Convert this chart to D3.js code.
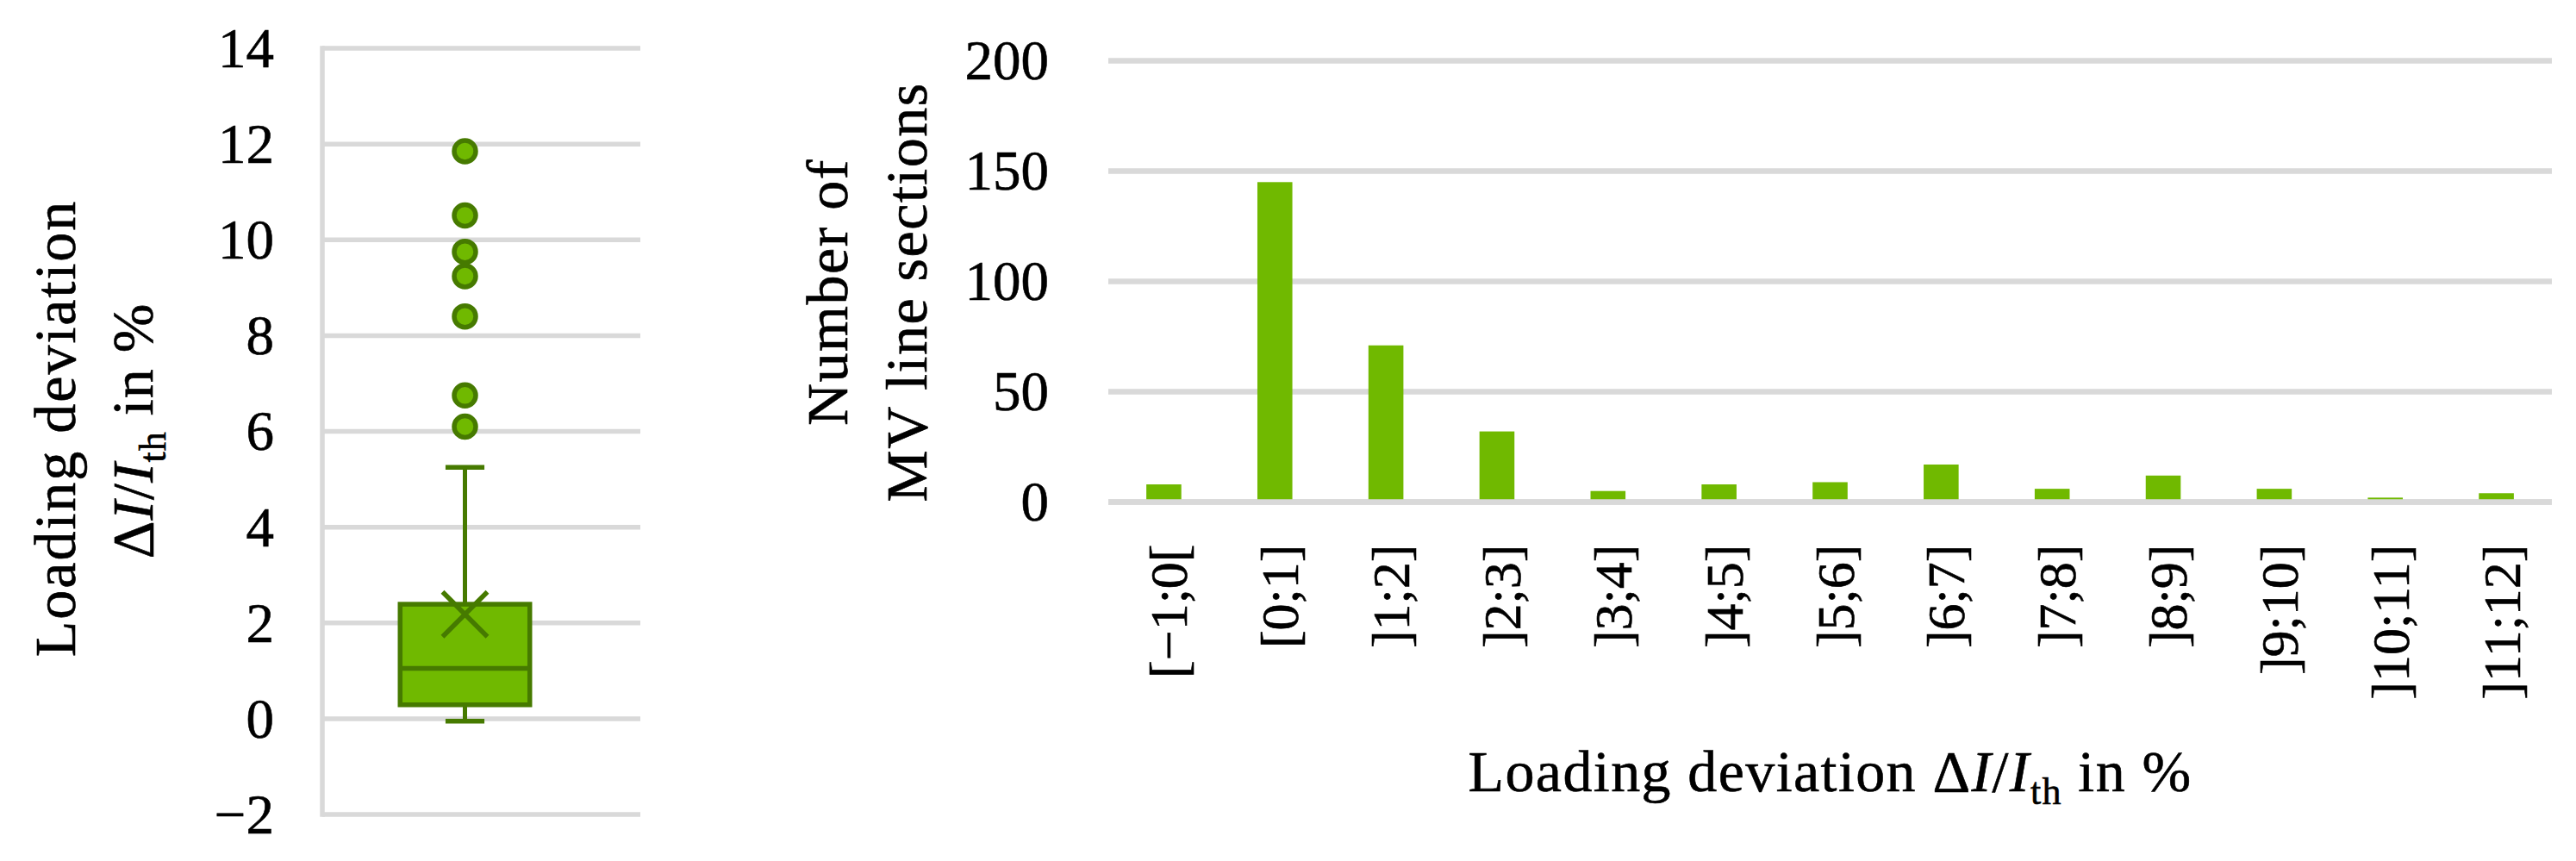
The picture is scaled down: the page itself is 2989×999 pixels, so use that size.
<!DOCTYPE html>
<html>
<head>
<meta charset="utf-8">
<script src="https://cdn.jsdelivr.net/npm/d3@7"></script>
<style>
  body { margin: 0; background: #fff; }
  svg { display: block; }
  text { font-family: "Liberation Serif", "Times New Roman", serif; fill: #000; stroke: #000; stroke-width: 0.6px; }
</style>
</head>
<body>
<script>
// box plot values (loading deviation in %)
var boxQuartiles = [0.29, 1.05, 2.39];   // Q1, median, Q3
var boxWhiskers = [-0.05, 5.25];
var boxMean = [2.18];
var boxOutliers = [6.1, 6.75, 8.4, 9.24, 9.75, 10.51, 11.85];
var boxTicks = [-2, 0, 2, 4, 6, 8, 10, 12, 14];

// histogram values
var binLabels = ["[\u22121;0[", "[0;1]", "]1;2]", "]2;3]", "]3;4]", "]4;5]", "]5;6]",
                 "]6;7]", "]7;8]", "]8;9]", "]9;10]", "]10;11]", "]11;12]"];
var binCounts = [8, 145, 71, 32, 5, 8, 9, 17, 6, 12, 6, 2, 4];
var countTicks = [0, 50, 100, 150, 200];

var width = 2989, height = 999;
var green = "#70b900", darkGreen = "#467a00", grid = "#d9d9d9";

var svg = d3.select("body").append("svg")
    .attr("width", width)
    .attr("height", height);

// ---------- left: box plot ----------
var yL = d3.scaleLinear().domain([-2, 14]).range([945, 56]);
var xL = d3.scaleBand().domain(["all"]).range([374, 705]).paddingOuter(0.6);

var left = svg.append("g");

left.selectAll("line.grid")
    .data(boxTicks)
    .enter().append("line")
    .attr("class", "grid")
    .attr("x1", 374).attr("x2", 743)
    .attr("y1", function (d) { return yL(d) })
    .attr("y2", function (d) { return yL(d) })
    .attr("stroke", grid).attr("stroke-width", 5.5);

left.append("line")
    .attr("x1", 374).attr("x2", 374)
    .attr("y1", yL(14) - 2.75).attr("y2", yL(-2) + 2.75)
    .attr("stroke", grid).attr("stroke-width", 5.5);

var axL = left.append("g")
    .attr("transform", "translate(374,0)")
    .call(d3.axisLeft(yL).tickValues(boxTicks).tickSize(0).tickPadding(56));
axL.select(".domain").remove();
axL.selectAll("text").attr("font-size", 65).attr("dy", "0.33em")
    .style("font-family", '"Liberation Serif", serif');

var cx = xL("all") + xL.bandwidth() / 2;
var bw = xL.bandwidth();
var capW = bw * 0.3;

// whiskers
left.append("line")
    .attr("x1", cx).attr("x2", cx)
    .attr("y1", yL(boxWhiskers[1])).attr("y2", yL(boxQuartiles[2]))
    .attr("stroke", darkGreen).attr("stroke-width", 5);
left.append("line")
    .attr("x1", cx).attr("x2", cx)
    .attr("y1", yL(boxWhiskers[0])).attr("y2", yL(boxQuartiles[0]))
    .attr("stroke", darkGreen).attr("stroke-width", 5);
left.selectAll("line.cap")
    .data(boxWhiskers)
    .enter().append("line")
    .attr("class", "cap")
    .attr("x1", cx - capW / 2).attr("x2", cx + capW / 2)
    .attr("y1", function (d) { return yL(d) })
    .attr("y2", function (d) { return yL(d) })
    .attr("stroke", darkGreen).attr("stroke-width", 5.5);

// box
left.append("rect")
    .attr("x", xL("all"))
    .attr("y", yL(boxQuartiles[2]))
    .attr("width", bw)
    .attr("height", yL(boxQuartiles[0]) - yL(boxQuartiles[2]))
    .attr("fill", green)
    .attr("stroke", darkGreen).attr("stroke-width", 5.5);
left.append("line")
    .attr("x1", xL("all")).attr("x2", xL("all") + bw)
    .attr("y1", yL(boxQuartiles[1])).attr("y2", yL(boxQuartiles[1]))
    .attr("stroke", darkGreen).attr("stroke-width", 5.5);

// mean marker (x)
var mh = 26;
boxMean.forEach(function (m) {
    var my = yL(m);
    left.append("path")
        .attr("d", "M" + (cx - mh) + "," + (my - mh) + "L" + (cx + mh) + "," + (my + mh) +
                   "M" + (cx - mh) + "," + (my + mh) + "L" + (cx + mh) + "," + (my - mh))
        .attr("stroke", darkGreen).attr("stroke-width", 5.5).attr("fill", "none");
});

// outliers
left.selectAll("circle")
    .data(boxOutliers)
    .enter().append("circle")
    .attr("cx", cx)
    .attr("cy", function (d) { return yL(d) })
    .attr("r", 12.5)
    .attr("fill", green)
    .attr("stroke", darkGreen).attr("stroke-width", 5.5);

// y title
left.append("text")
    .attr("transform", "translate(87,497) rotate(-90)")
    .attr("text-anchor", "middle")
    .attr("font-size", 68).attr("letter-spacing", 2)
    .text("Loading deviation");

function ratioLabel(t) {
    t.append("tspan").text("\u0394");
    t.append("tspan").attr("font-style", "italic").text("I");
    t.append("tspan").text("/");
    t.append("tspan").attr("font-style", "italic").text("I");
    t.append("tspan").attr("font-size", 44).attr("dy", 15).text("th");
    t.append("tspan").attr("dy", -15).text(" in %");
}

var t2 = left.append("text")
    .attr("transform", "translate(177,500) rotate(-90)")
    .attr("text-anchor", "middle")
    .attr("font-size", 68).attr("letter-spacing", 1);
ratioLabel(t2);

// ---------- right: histogram ----------
var xR = d3.scaleBand().domain(binLabels).range([1286, 2961])
    .paddingInner(0.685).paddingOuter(0.3425);
var yR = d3.scaleLinear().domain([0, 200]).range([582.5, 70.5]);

var right = svg.append("g");

right.selectAll("line.grid")
    .data(countTicks)
    .enter().append("line")
    .attr("class", "grid")
    .attr("x1", 1286).attr("x2", 2961)
    .attr("y1", function (d) { return yR(d) })
    .attr("y2", function (d) { return yR(d) })
    .attr("stroke", grid).attr("stroke-width", 6.5);

right.selectAll("rect")
    .data(binCounts)
    .enter().append("rect")
    .attr("x", function (d, i) { return xR(binLabels[i]) })
    .attr("y", function (d) { return yR(d) })
    .attr("width", xR.bandwidth())
    .attr("height", function (d) { return yR(0) - yR(d) })
    .attr("fill", green);

// zero line over the bars
right.append("line")
    .attr("x1", 1286).attr("x2", 2961)
    .attr("y1", yR(0)).attr("y2", yR(0))
    .attr("stroke", grid).attr("stroke-width", 6.5);

var axRy = right.append("g")
    .attr("transform", "translate(1286,0)")
    .call(d3.axisLeft(yR).tickValues(countTicks).tickSize(0).tickPadding(69));
axRy.select(".domain").remove();
axRy.selectAll("text").attr("font-size", 65).attr("dy", "0.33em")
    .style("font-family", '"Liberation Serif", serif');

var axRx = right.append("g")
    .attr("transform", "translate(0," + yR(0) + ")")
    .call(d3.axisBottom(xR).tickSize(0));
axRx.select(".domain").remove();
axRx.selectAll("text")
    .attr("transform", "rotate(-90)")
    .attr("text-anchor", "end")
    .attr("x", -49).attr("y", 27).attr("dy", 0)
    .attr("font-size", 62)
    .style("font-family", '"Liberation Serif", serif');

right.append("text")
    .attr("transform", "translate(983,339) rotate(-90)")
    .attr("text-anchor", "middle")
    .attr("font-size", 68).attr("letter-spacing", 1.5)
    .text("Number of");
right.append("text")
    .attr("transform", "translate(1075,339) rotate(-90)")
    .attr("text-anchor", "middle")
    .attr("font-size", 68).attr("letter-spacing", 1.5)
    .text("MV line sections");

var t3 = right.append("text")
    .attr("x", (1286 + 2961) / 2).attr("y", 918)
    .attr("text-anchor", "middle")
    .attr("font-size", 68).attr("letter-spacing", 1.4);
t3.append("tspan").text("Loading deviation ");
ratioLabel(t3);
</script>
</body>
</html>
